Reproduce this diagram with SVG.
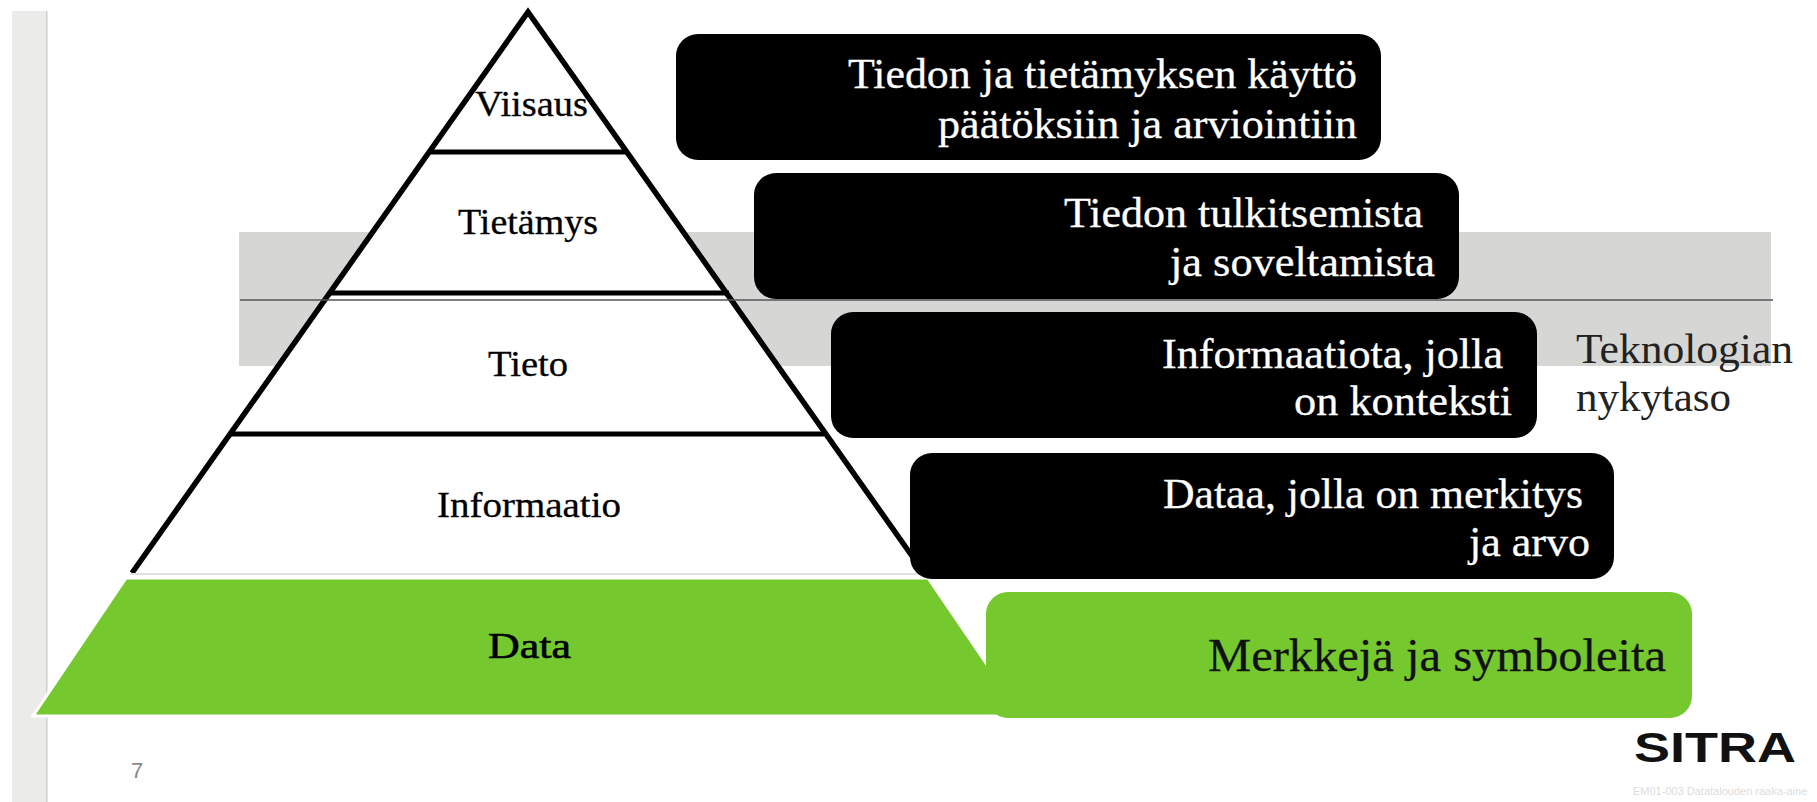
<svg xmlns="http://www.w3.org/2000/svg" width="1817" height="802" viewBox="0 0 1817 802">
<style>
text{font-family:"Liberation Serif","DejaVu Serif",serif}
.lab{font-size:35px;fill:#000;stroke:#000;stroke-width:.3}
.w{font-size:43px;fill:#fff;stroke:#fff;stroke-width:.3}
.box{fill:#000}
.tier{stroke:#000;stroke-width:5;fill:none}
.sans{font-family:"Liberation Sans",sans-serif}
</style>
<rect width="1817" height="802" fill="#fff"/>
<g id="sidebar"><rect x="12" y="11" width="35" height="791" fill="#ebebe9"/><rect x="46" y="11" width="1.5" height="791" fill="#d0d0d0"/></g>
<g id="band"><rect x="239" y="232" width="1532" height="134" fill="#d6d6d5"/></g>
<g id="pyramid">
<polygon points="528,10 131,573 925,573" fill="#fff"/>
<path d="M132,573 L528,12 L912,556" class="tier" style="stroke-width:5.5"/>
<line x1="431" y1="152" x2="627" y2="152" class="tier"/>
<line x1="329" y1="293" x2="729" y2="293" class="tier"/>
<line x1="231" y1="434" x2="824" y2="434" class="tier"/>
<line x1="131" y1="574" x2="925" y2="574" stroke="#e0e0e0" stroke-width="2"/>
</g>
<g id="level-line"><line x1="240" y1="300" x2="1773" y2="300" stroke="#555" stroke-width="1.6"/></g>
<g id="node-viisaus"><text class="lab" x="475" y="116" textLength="113" lengthAdjust="spacingAndGlyphs">Viisaus</text></g>
<g id="node-tietamys"><text class="lab" x="458" y="234" textLength="140" lengthAdjust="spacingAndGlyphs">Tietämys</text></g>
<g id="node-tieto"><text class="lab" x="488" y="376" textLength="80" lengthAdjust="spacingAndGlyphs">Tieto</text></g>
<g id="node-informaatio"><text class="lab" x="437" y="517" textLength="184" lengthAdjust="spacingAndGlyphs">Informaatio</text></g>
<g id="node-data">
<polygon points="126,578 928,578 1022,716 33,716" fill="#75c92e" stroke="#fff" stroke-width="3"/>
<text class="lab" x="488" y="658" textLength="83" lengthAdjust="spacingAndGlyphs" style="stroke-width:.6">Data</text>
</g>
<g id="desc-viisaus"><rect class="box" x="676" y="34" width="705" height="126" rx="22"/>
<text class="w" x="848" y="88" textLength="509" lengthAdjust="spacingAndGlyphs">Tiedon ja tietämyksen käyttö</text>
<text class="w" x="938" y="138" textLength="419" lengthAdjust="spacingAndGlyphs">päätöksiin ja arviointiin</text></g>
<g id="desc-tietamys"><rect class="box" x="754" y="173" width="705" height="126" rx="22"/>
<text class="w" x="1064" y="227" textLength="359" lengthAdjust="spacingAndGlyphs">Tiedon tulkitsemista</text>
<text class="w" x="1170" y="276" textLength="265" lengthAdjust="spacingAndGlyphs">ja soveltamista</text></g>
<g id="desc-tieto"><rect class="box" x="831" y="312" width="706" height="126" rx="22"/>
<text class="w" x="1162" y="368" textLength="341" lengthAdjust="spacingAndGlyphs">Informaatiota, jolla</text>
<text class="w" x="1294" y="415" textLength="218" lengthAdjust="spacingAndGlyphs">on konteksti</text></g>
<g id="desc-informaatio"><rect class="box" x="910" y="453" width="704" height="126" rx="22"/>
<text class="w" x="1163" y="508" textLength="420" lengthAdjust="spacingAndGlyphs">Dataa, jolla on merkitys</text>
<text class="w" x="1469" y="556" textLength="121" lengthAdjust="spacingAndGlyphs">ja arvo</text></g>
<g id="desc-data"><rect x="986" y="592" width="706" height="126" rx="22" fill="#75c92e"/>
<text x="1208" y="671" font-size="47" fill="#111" stroke="#111" stroke-width=".3" textLength="458" lengthAdjust="spacingAndGlyphs">Merkkejä ja symboleita</text></g>
<g id="note"><text x="1576" y="363" font-size="42" fill="#222" textLength="217" lengthAdjust="spacingAndGlyphs">Teknologian</text>
<text x="1576" y="411" font-size="42" fill="#222" textLength="155" lengthAdjust="spacingAndGlyphs">nykytaso</text></g>
<g id="footer">
<text class="sans" x="131" y="778" font-size="22" fill="#888">7</text>
<text class="sans" x="1634" y="762" font-size="42" font-weight="bold" fill="#111" textLength="162" lengthAdjust="spacingAndGlyphs">SITRA</text>
<text class="sans" x="1633" y="795" font-size="11" fill="#ddd">EM01-003 Datatalouden raaka-aine</text>
</g>
</svg>
